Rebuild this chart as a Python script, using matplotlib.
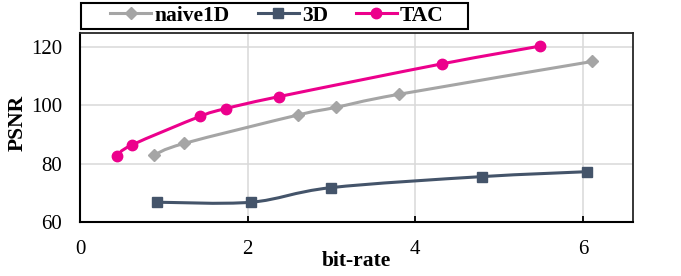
import matplotlib.pyplot as plt
from matplotlib.path import Path
from matplotlib.patches import PathPatch, Rectangle
from matplotlib.lines import Line2D

plt.rcParams['font.family'] = ['Liberation Serif', 'DejaVu Serif']

# values
naive_x = [0.88, 1.24, 2.60, 3.05, 3.80, 6.11]
naive_y = [82.9, 86.9, 96.7, 99.3, 103.8, 115.1]
td_x = [0.92, 2.04, 2.99, 4.79, 6.05]
td_y = [66.7, 66.7, 71.7, 75.5, 77.2]
tac_x = [0.44, 0.62, 1.43, 1.74, 2.37, 4.32, 5.49]
tac_y = [82.7, 86.4, 96.2, 98.9, 103.0, 114.3, 120.4]

series = [
    ('naive1D', naive_x, naive_y, '#A5A5A5', 'D', 6.5),
    ('3D', td_x, td_y, '#44546A', 's', 7.5),
    ('TAC', tac_x, tac_y, '#EC008C', 'o', 7.5),
]


def smooth_path(xs, ys):
    # excel-like smoothed line: cubic bezier through the points
    pts = list(zip(xs, ys))
    n = len(pts)
    verts = [pts[0]]
    codes = [Path.MOVETO]
    for i in range(n - 1):
        p0 = pts[max(i - 1, 0)]
        p1 = pts[i]
        p2 = pts[i + 1]
        p3 = pts[min(i + 2, n - 1)]
        c1 = (p1[0] + (p2[0] - p0[0]) / 6, p1[1] + (p2[1] - p0[1]) / 6)
        c2 = (p2[0] - (p3[0] - p1[0]) / 6, p2[1] - (p3[1] - p1[1]) / 6)
        verts += [c1, c2, p2]
        codes += [Path.CURVE4] * 3
    return Path(verts, codes)


fig = plt.figure(figsize=(6.81, 2.76), dpi=100)
ax = fig.add_axes([80 / 681, 1 - 221.7 / 276, 553.3 / 681, 189 / 276])

handles = []
for i, (name, xs, ys, col, mk, ms) in enumerate(series):
    ax.add_patch(PathPatch(smooth_path(xs, ys), facecolor='none', edgecolor=col,
                           linewidth=2.2, zorder=3 + i))
    ax.plot(xs, ys, linestyle='none', marker=mk, markersize=ms, color=col, zorder=3 + i)
    handles.append(Line2D([], [], color=col, linewidth=2.2, marker=mk, markersize=ms))

ax.set_xlim(0, 6.6)
ax.set_ylim(60, 125)
ax.set_xticks([0, 2, 4, 6])
ax.set_yticks([60, 80, 100, 120])
ax.grid(True, color='#D9D9D9', linewidth=1.1)
ax.set_axisbelow(True)

ax.tick_params(axis='x', direction='in', length=4.5, width=1.3, pad=13, labelsize=15)
ax.tick_params(axis='y', length=0, pad=13, labelsize=15)
for s in ['left', 'bottom']:
    ax.spines[s].set_linewidth(1.5)
for s in ['top', 'right']:
    ax.spines[s].set_linewidth(1.3)
    ax.spines[s].set_color('#262626')

ax.set_xlabel('bit-rate', fontsize=15.5, fontweight='bold')
ax.set_ylabel('PSNR', fontsize=15.5, fontweight='bold')
ax.xaxis.set_label_coords(0.5, -0.208)
ax.xaxis.label.set_verticalalignment('center')
ax.yaxis.set_label_coords(-0.112, 0.52)
ax.yaxis.label.set_verticalalignment('center')

fig.patches.append(Rectangle((81 / 681, 1 - 29.3 / 276), 387 / 681, 26.6 / 276,
                             transform=fig.transFigure, facecolor='white',
                             edgecolor='black', linewidth=1.5))
fig.legend(handles, [s[0] for s in series], loc='center',
           bbox_to_anchor=(277 / 681, 1 - 16 / 276), ncol=3, frameon=False,
           prop={'size': 15.5, 'weight': 'bold'}, handlelength=1.9,
           handletextpad=0.15, columnspacing=1.3, borderpad=0)

fig.savefig('out.png', dpi=100)
